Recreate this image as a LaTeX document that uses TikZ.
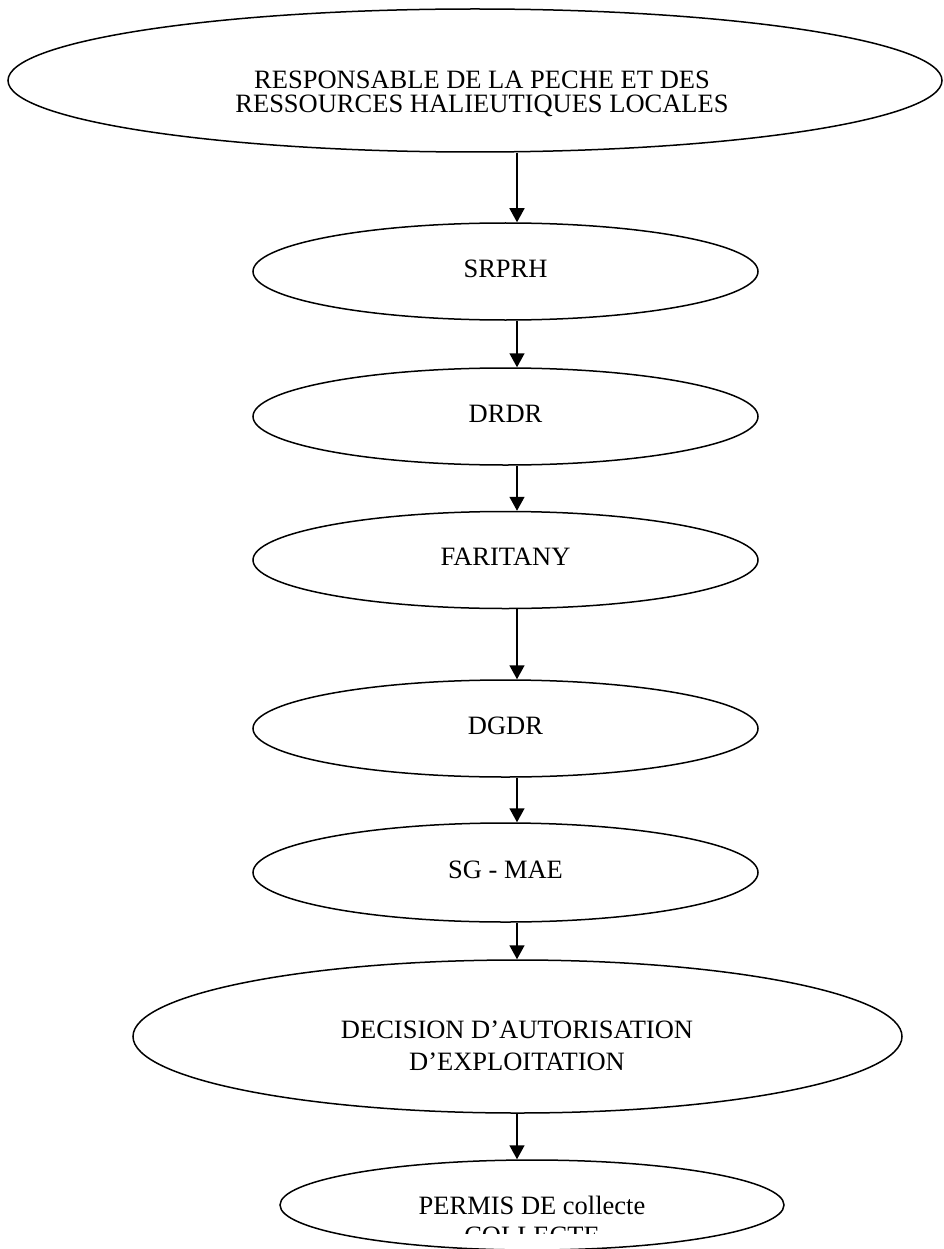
\documentclass[tikz,border=0pt]{standalone}
\usepackage{fontspec}
\setmainfont{Liberation Serif}
\usetikzlibrary{shapes.geometric,arrows.meta}

\begin{document}
\begin{tikzpicture}[->,>={Triangle[width=15pt,length=14pt]},x=1pt,y=-1pt,
  line width=1.5pt,main node/.style={ellipse,draw,inner sep=0pt,font=\fontsize{26.5}{30}\selectfont},
  step node/.style={main node,minimum width=505pt,minimum height=97pt,text depth=6pt},
  label text/.style={anchor=north,inner sep=0pt,align=center}]
\useasboundingbox (0,0) rectangle (944,1249);
\coordinate (axis) at (517,0);
%1
  \node[main node,minimum width=934pt,minimum height=143pt] (resp) at (475,80.5) {};
  \node[label text,font=\fontsize{26.5}{24}\selectfont] (resp text) at (482,70.5)
    {RESPONSABLE DE LA PECHE ET DES\\RESSOURCES HALIEUTIQUES LOCALES};
%2
  \node[step node] (srprh) at (505.5,271.5) {SRPRH};
%3
  \node[step node] (drdr) at (505.5,416.5) {DRDR};
%4
  \node[step node] (faritany) at (505.5,560) {FARITANY};
%5
  \node[step node] (dgdr) at (505.5,728.5) {DGDR};
%6
  \node[step node,minimum height=99pt] (sgmae) at (505.5,872.5) {SG - MAE};
%7
  \node[main node,minimum width=769pt,minimum height=153pt] (decision) at (517.5,1036.5) {};
  \node[label text,font=\fontsize{26.5}{32}\selectfont] (decision text) at (517,1020.5)
    {DECISION D’AUTORISATION\\D’EXPLOITATION};
%8
  \node[main node,minimum width=504pt,minimum height=90pt] (permis) at (532,1205) {};
  \begin{scope}
    \clip (0,0) rectangle (944,1233);
    \node[label text,font=\fontsize{26.5}{30}\selectfont] (permis text) at (532,1195)
      {PERMIS DE collecte\\COLLECTE};
  \end{scope}
%paths
  \path
    (resp.south -| axis) edge (srprh.north -| axis)
    (srprh.south -| axis) edge (drdr.north -| axis)
    (drdr.south -| axis) edge (faritany.north -| axis)
    (faritany.south -| axis) edge (dgdr.north -| axis)
    (dgdr.south -| axis) edge (sgmae.north -| axis)
    (sgmae.south -| axis) edge (decision.north -| axis)
    (decision.south -| axis) edge (permis.north -| axis);
\end{tikzpicture}
\end{document}
